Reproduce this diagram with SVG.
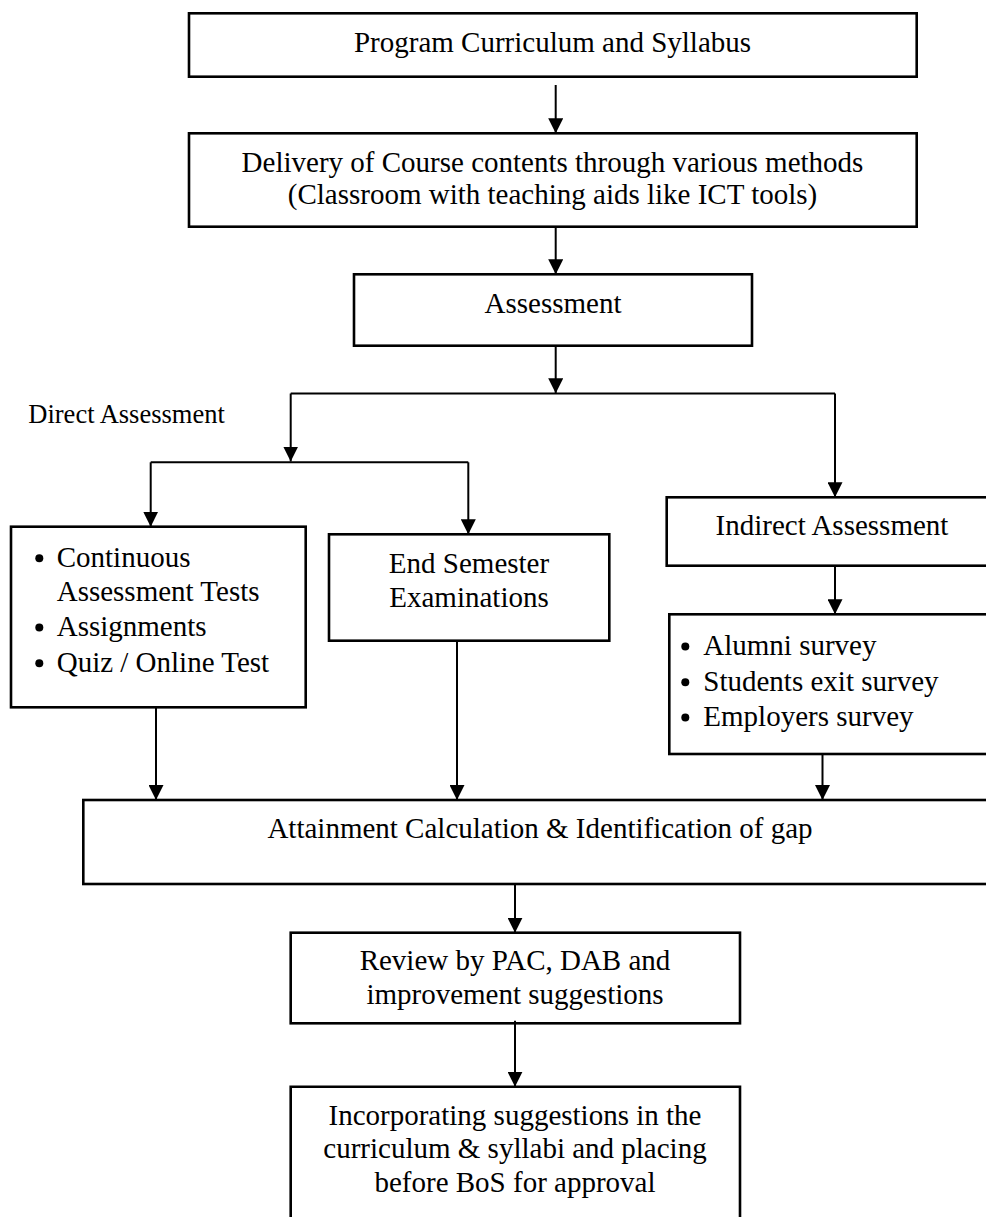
<svg xmlns="http://www.w3.org/2000/svg" width="986" height="1217" viewBox="0 0 986 1217">
  <style>
    .box { fill: none; stroke: #000; stroke-width: 2.6; }
    .wire { fill: none; stroke: #000; stroke-width: 2; }
    .arrow { fill: none; stroke: #000; stroke-width: 2; marker-end: url(#head); }
    .bullet { fill: #000; }
    text { font-family: "Liberation Serif", "Times New Roman", serif; font-size: 29px; fill: #000; }
    .c { text-anchor: middle; }
    .small { font-size: 26.5px; }
  </style>
  <defs>
    <marker id="head" viewBox="0 0 15 15" refX="15" refY="7.5" markerWidth="15" markerHeight="15" markerUnits="userSpaceOnUse" orient="auto">
      <path d="M0,0 L15,7.5 L0,15 z" fill="#000"/>
    </marker>
    <!-- list marker dot -->
    <circle id="dot" r="4" class="bullet"/>
  </defs>
  <rect width="986" height="1217" fill="#fff"/>

  <g id="n-curriculum">
    <rect class="box" x="189" y="13.3" width="727.7" height="63.4"/>
    <text class="c" x="552.5" y="52.3">Program Curriculum and Syllabus</text>
  </g>

  <g id="n-delivery">
    <rect class="box" x="189" y="133.3" width="727.7" height="93.4"/>
    <text class="c" x="552.5" y="171.7">Delivery of Course contents through various methods</text>
    <text class="c" x="552.5" y="204">(Classroom with teaching aids like ICT tools)</text>
  </g>

  <g id="n-assessment">
    <rect class="box" x="354" y="274.3" width="398" height="71.4"/>
    <text class="c" x="553" y="312.7">Assessment</text>
  </g>

  <g id="n-direct-label">
    <text class="small" x="28.3" y="422.7">Direct Assessment</text>
  </g>

  <g id="n-continuous">
    <rect class="box" x="11" y="526.7" width="294.7" height="180.6"/>
    <use href="#dot" x="39.3" y="558.3"/>
    <text x="56.7" y="566.7">Continuous</text>
    <text x="56.7" y="600.7">Assessment Tests</text>
    <use href="#dot" x="39.3" y="627.6"/>
    <text x="56.7" y="636">Assignments</text>
    <use href="#dot" x="39.3" y="663.3"/>
    <text x="56.7" y="671.7">Quiz / Online Test</text>
  </g>

  <g id="n-endsem">
    <rect class="box" x="329" y="534.3" width="280.3" height="106.4"/>
    <text class="c" x="469" y="572.7">End Semester</text>
    <text class="c" x="469" y="606.7">Examinations</text>
  </g>

  <g id="n-indirect">
    <rect class="box" x="666.7" y="497.3" width="330" height="68.4"/>
    <text class="c" x="832" y="535">Indirect Assessment</text>
  </g>

  <g id="n-surveys">
    <rect class="box" x="669.3" y="614.3" width="330" height="139.7"/>
    <use href="#dot" x="685.3" y="646.6"/>
    <text x="703.3" y="655">Alumni survey</text>
    <use href="#dot" x="685.3" y="682.3"/>
    <text x="703.3" y="690.7">Students exit survey</text>
    <use href="#dot" x="685.3" y="717.6"/>
    <text x="703.3" y="726">Employers survey</text>
  </g>

  <g id="n-attainment">
    <rect class="box" x="83.3" y="800" width="915" height="84"/>
    <text class="c" x="540" y="838.3">Attainment Calculation &amp; Identification of gap</text>
  </g>

  <g id="n-review">
    <rect class="box" x="290.7" y="932.7" width="449.3" height="90.6"/>
    <text class="c" x="515" y="970">Review by PAC, DAB and</text>
    <text class="c" x="515" y="1004">improvement suggestions</text>
  </g>

  <g id="n-incorporate">
    <path class="box" d="M290.7,1230 V1086.7 H740 V1230"/>
    <text class="c" x="515" y="1125">Incorporating suggestions in the</text>
    <text class="c" x="515" y="1158.3">curriculum &amp; syllabi and placing</text>
    <text class="c" x="515" y="1191.7">before BoS for approval</text>
  </g>

  <g id="connectors">
    <path class="arrow" d="M555.7,85 V133.3"/>
    <path class="arrow" d="M555.7,227 V274.3"/>
    <path class="arrow" d="M555.7,346 V393.3"/>
    <path class="wire" d="M290.7,393.5 H835"/>
    <path class="arrow" d="M290.7,393.5 V461.5"/>
    <path class="wire" d="M150.7,462.3 H468.3"/>
    <path class="arrow" d="M150.7,462.3 V526.7"/>
    <path class="arrow" d="M468.3,462.3 V534.3"/>
    <path class="arrow" d="M835,393.5 V497.3"/>
    <path class="arrow" d="M835,566 V614.3"/>
    <path class="arrow" d="M156,707.3 V800"/>
    <path class="arrow" d="M457,640.7 V800"/>
    <path class="arrow" d="M822.5,754 V800"/>
    <path class="arrow" d="M515,884 V932.7"/>
    <path class="arrow" d="M515,1020.7 V1086.7"/>
  </g>
</svg>
